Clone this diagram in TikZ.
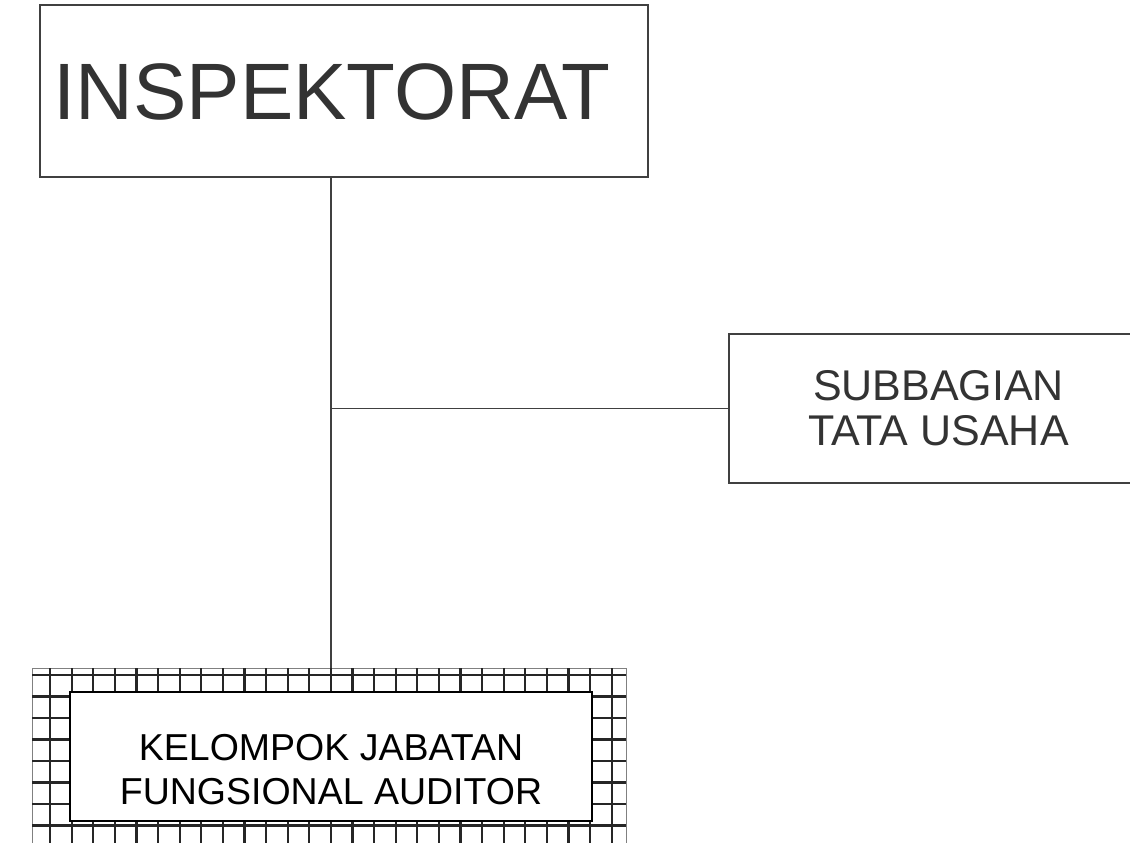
\documentclass[tikz,border=0pt]{standalone}
\usepackage{fontspec}
\setmainfont{Liberation Sans}
\usetikzlibrary{positioning}
\definecolor{inkgray}{HTML}{333333}
\definecolor{linegray}{HTML}{404040}

\begin{document}
\begin{tikzpicture}[x=1pt, y=-1pt,
  unitbox/.style={draw=linegray, line width=1.3pt, inner sep=0pt, align=center, text=inkgray},
  link/.style={draw=linegray, line width=1.3pt},
  gridline/.style={black!85, line width=2.2pt}]

\useasboundingbox (0,0) rectangle (1130,843);

% kepala
\node[unitbox, minimum width=608pt, minimum height=172pt] (inspektorat) at (344,91) {};
\node[text=inkgray, inner sep=0pt, font=\fontsize{80}{92}\selectfont] (inspektoratlbl) at (332,92) {INSPEKTORAT};

% subbagian
\node[unitbox, minimum width=419pt, minimum height=149pt, font=\fontsize{43}{45}\selectfont] (subbagian) at (938.5,408.5) {\raisebox{-3pt}{\parbox{300pt}{\centering SUBBAGIAN\\TATA USAHA}}};

% jabatan fungsional, grid frame
\node[draw=gray, line width=1pt, minimum width=594pt, minimum height=200pt, inner sep=0pt] (kjfframe) at (329,768) {};
\begin{scope}
\clip (32,668) rectangle (626,860);
\foreach \gx in {0,...,26} \draw[gridline] (50+21.6*\gx, 668) -- (50+21.6*\gx, 860);
\foreach \gy in {0,...,8} \draw[gridline] (32, 675+21.5*\gy) -- (626, 675+21.5*\gy);
\end{scope}
\node[draw=black, fill=white, line width=1.6pt, minimum width=522pt, minimum height=129pt, inner sep=0pt] (kjf) at (331,756.5) {};
\node[align=center, inner sep=0pt, font=\fontsize{37.5}{44}\selectfont] (kjflbl) at (331,770) {KELOMPOK JABATAN\\FUNGSIONAL AUDITOR};

\coordinate (trunktop) at ([xshift=-13pt]inspektorat.south);
\coordinate (cabang) at (trunktop |- subbagian.west);
\draw[link] (trunktop) -- (trunktop |- kjfframe.north);
\draw[link] (cabang) -- (subbagian.west);
\end{tikzpicture}
\end{document}
